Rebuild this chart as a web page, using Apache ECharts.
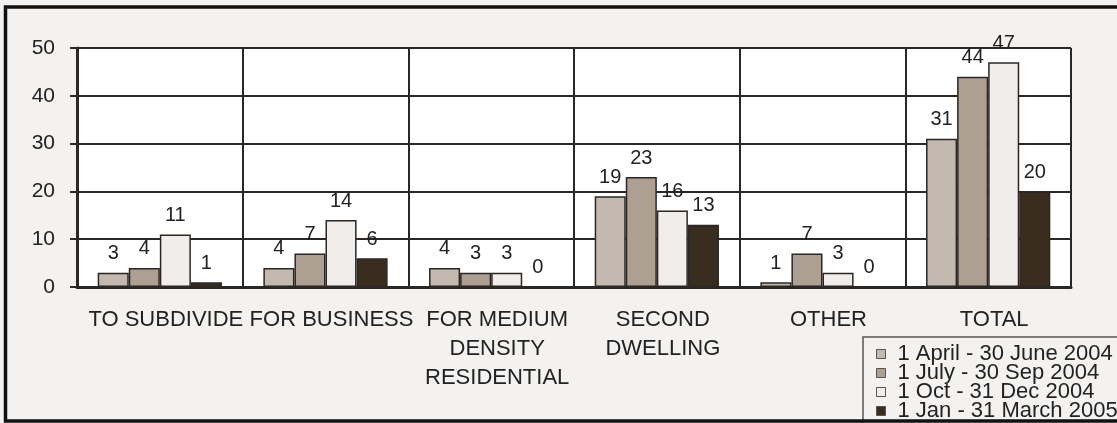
<!DOCTYPE html>
<html>
<head>
<meta charset="utf-8">
<script src="https://cdn.jsdelivr.net/npm/echarts@6/dist/echarts.min.js"></script>
<style>
  html, body { margin: 0; padding: 0; background: #f3f2f0; }
  #chart { width: 1117px; height: 423px; }
</style>
</head>
<body>
<div id="chart"></div>
<script>
// Applications by purpose, per quarter
const categories = ['TO SUBDIVIDE', 'FOR BUSINESS', 'FOR MEDIUM\nDENSITY\nRESIDENTIAL', 'SECOND\nDWELLING', 'OTHER', 'TOTAL'];
const seriesNames = ['1 April - 30 June 2004', '1 July - 30 Sep 2004', '1 Oct - 31 Dec 2004', '1 Jan - 31 March 2005'];
const aprJun2004 = [3, 4, 4, 19, 1, 31];
const julSep2004 = [4, 7, 3, 23, 7, 44];
const octDec2004 = [11, 14, 3, 16, 3, 47];
const janMar2005 = [1, 6, 0, 13, 0, 20];
const yTicks = { min: 0, max: 50, interval: 10 };

const seriesValues = [aprJun2004, julSep2004, octDec2004, janMar2005];
const seriesColors = ['#c3b9ae', '#ada093', '#f0edeb', '#3a2d1f'];
const lineDark = '#2b2724';
const font = '"Liberation Sans", Arial, sans-serif';

const chart = echarts.init(document.getElementById('chart'), null, { renderer: 'canvas' });

chart.setOption({
  backgroundColor: '#f3f2f0',
  animation: false,
  textStyle: { fontFamily: font },
  grid: {
    left: 77, right: 46, top: 48, bottom: 136,
    show: true, backgroundColor: '#ffffff', borderWidth: 0
  },
  legend: {
    orient: 'vertical',
    left: 863, top: 337,
    width: 300, height: 140,
    padding: [6, 20, 20, 13],
    backgroundColor: '#f3f2f0',
    borderColor: '#5a5652',
    borderWidth: 1.5,
    itemGap: -3,
    itemWidth: 9, itemHeight: 9,
    icon: 'rect',
    itemStyle: { borderColor: '#555', borderWidth: 1 },
    textStyle: { fontSize: 22, color: '#222', lineHeight: 18.3, padding: [0, 0, 0, 7], fontFamily: font },
    data: seriesNames
  },
  xAxis: {
    type: 'category',
    data: categories,
    axisLine: { show: true, lineStyle: { color: lineDark, width: 3 } },
    axisTick: { show: false },
    splitLine: { show: true, interval: 0, lineStyle: { color: lineDark, width: 2 } },
    axisLabel: {
      interval: 0, fontSize: 22, color: '#222', lineHeight: 29, margin: 18,
      padding: [0, 0, 0, 12], fontFamily: font
    }
  },
  yAxis: {
    type: 'value',
    min: yTicks.min, max: yTicks.max, interval: yTicks.interval,
    axisLine: { show: true, lineStyle: { color: lineDark, width: 3 } },
    axisTick: { show: true, length: 7, lineStyle: { color: lineDark, width: 2 } },
    splitLine: { show: true, lineStyle: { color: lineDark, width: 2 } },
    axisLabel: { fontSize: 21, color: '#222', margin: 22, fontFamily: font }
  },
  series: seriesValues.map((vals, i) => ({
    name: seriesNames[i],
    type: 'bar',
    data: vals,
    barGap: '0%',
    barCategoryGap: '25%',
    itemStyle: { color: seriesColors[i], borderColor: lineDark, borderWidth: 1.5 },
    label: { show: true, position: 'top', distance: 9, fontSize: 20, color: '#222', fontFamily: font }
  })),
  graphic: [{
    type: 'rect',
    z: 100,
    silent: true,
    shape: { x: 5.5, y: 7, width: 1200, height: 414 },
    style: { fill: 'none', stroke: '#111', lineWidth: 3.5 }
  }]
});
</script>
</body>
</html>
